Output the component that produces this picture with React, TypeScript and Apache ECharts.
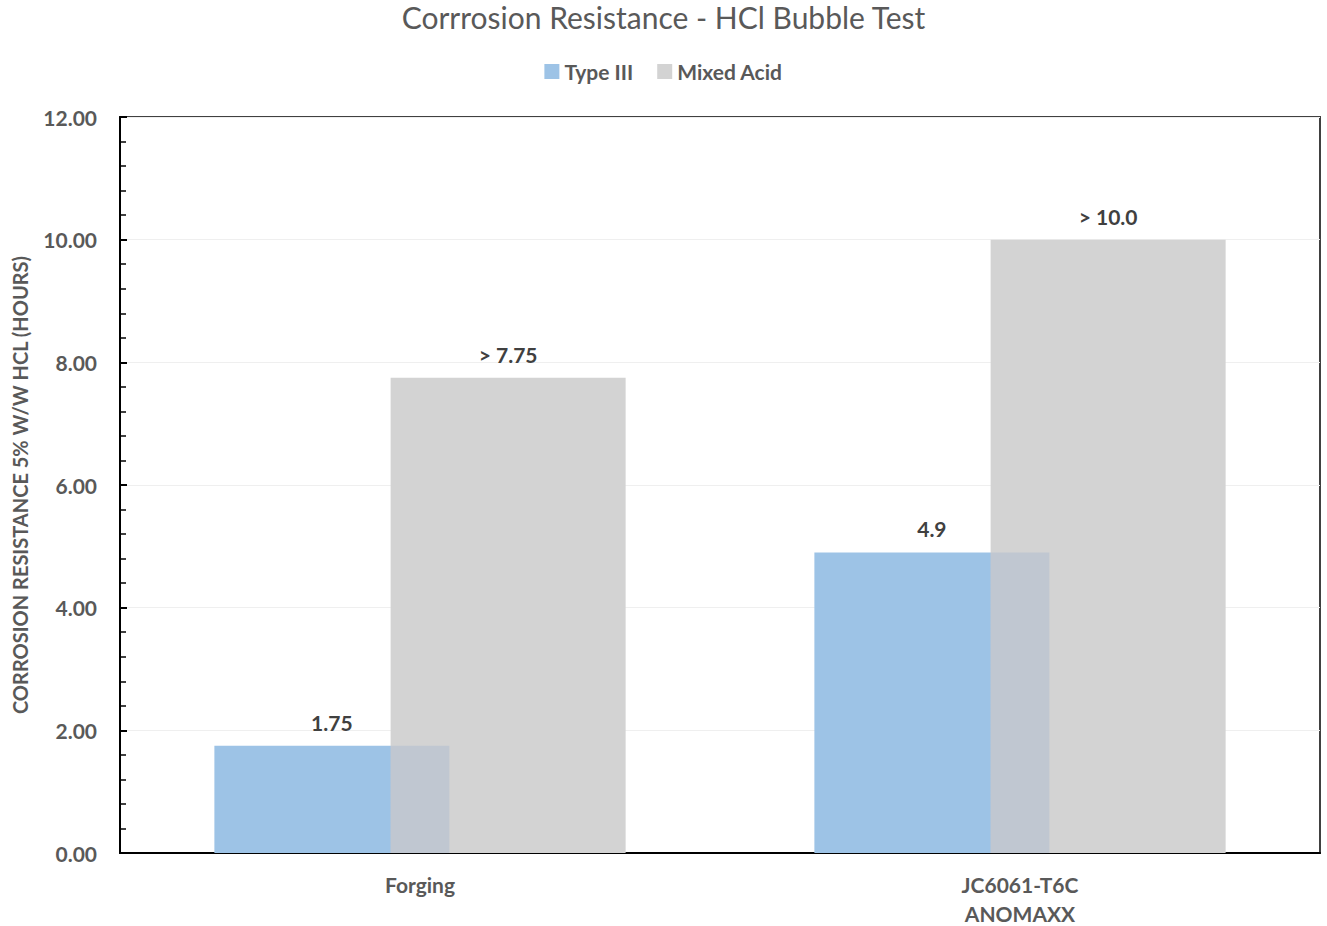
import React, { useEffect, useRef } from "react";
import * as echarts from "echarts";

const categories = ["Forging", "JC6061-T6C\nANOMAXX"];
const typeIII = [1.75, 4.9];
const mixedAcid = [7.75, 10.0];
const typeIIILabels = ["1.75", "4.9"];
const mixedAcidLabels = ["> 7.75", "> 10.0"];

const FONT = "Lato, 'Open Sans', sans-serif";
const BLUE = "#9DC3E6";
const GRAY = "#D3D3D3";
const OVERLAP = "#C0C7D1";

export default function App() {
  const ref = useRef<HTMLDivElement>(null);
  useEffect(() => {
    if (!ref.current) return;
    const chart = echarts.init(ref.current, null, { renderer: "svg" });
    chart.setOption({
      animation: false,
      backgroundColor: "#fff",
      title: {
        text: "Corrrosion Resistance - HCl Bubble Test",
        left: "center",
        top: -3,
        textStyle: { fontFamily: FONT, fontSize: 30, fontWeight: "normal", color: "#595959" },
      },
      legend: {
        top: 56,
        left: "center",
        itemWidth: 15,
        itemHeight: 15,
        itemGap: 24,
        icon: "rect",
        textStyle: { fontFamily: FONT, fontSize: 21, fontWeight: "bold", color: "#595959" },
        data: [
          { name: "Type III", itemStyle: { color: BLUE } },
          { name: "Mixed Acid", itemStyle: { color: GRAY } },
        ],
      },
      grid: {
        left: 120,
        right: 7,
        top: 117,
        bottom: 73,
        outerBoundsMode: "none",
        containLabel: false,
        show: true,
        borderColor: "#404040",
        borderWidth: 2,
      },
      xAxis: {
        type: "category",
        data: categories,
        axisLine: { lineStyle: { color: "#000", width: 2 } },
        axisTick: { show: false },
        axisLabel: {
          fontFamily: FONT,
          fontSize: 21,
          fontWeight: "bold",
          color: "#595959",
          margin: 17,
          lineHeight: 29,
        },
      },
      yAxis: {
        type: "value",
        min: 0,
        max: 12,
        interval: 2,
        name: "CORROSION RESISTANCE 5% W/W HCL (HOURS)",
        nameLocation: "middle",
        nameGap: 90,
        nameRotate: 90,
        nameTextStyle: { fontFamily: FONT, fontSize: 20, fontWeight: "bold", color: "#595959" },
        axisLine: { show: true, lineStyle: { color: "#000", width: 2 } },
        axisTick: { show: true, inside: true, length: 7, lineStyle: { color: "#000", width: 2 } },
        minorTick: { show: true, splitNumber: 5, length: 6, lineStyle: { color: "#000", width: 1.5 } },
        splitLine: { show: true, lineStyle: { color: "#EFEFEF", width: 1 } },
        axisLabel: {
          fontFamily: FONT,
          fontSize: 21,
          fontWeight: "bold",
          color: "#595959",
          margin: 23,
          formatter: (v: number) => v.toFixed(2),
        },
      },
      series: [
        {
          name: "Type III",
          type: "bar",
          data: typeIII,
          barWidth: 235,
          barGap: "-25%",
          z: 3,
          itemStyle: {
            color: {
              type: "linear",
              x: 0,
              y: 0,
              x2: 1,
              y2: 0,
              colorStops: [
                { offset: 0, color: BLUE },
                { offset: 0.749, color: BLUE },
                { offset: 0.75, color: OVERLAP },
                { offset: 1, color: OVERLAP },
              ],
            },
          },
          label: {
            show: true,
            position: "top",
            distance: 13,
            fontFamily: FONT,
            fontSize: 21,
            fontWeight: "bold",
            color: "#404040",
            formatter: (p: any) => typeIIILabels[p.dataIndex],
          },
        },
        {
          name: "Mixed Acid",
          type: "bar",
          data: mixedAcid,
          barWidth: 235,
          barGap: "-25%",
          z: 2,
          itemStyle: { color: GRAY },
          label: {
            show: true,
            position: "top",
            distance: 13,
            fontFamily: FONT,
            fontSize: 21,
            fontWeight: "bold",
            color: "#404040",
            formatter: (p: any) => mixedAcidLabels[p.dataIndex],
          },
        },
      ],
    });
    return () => chart.dispose();
  }, []);
  return (
    <div
      ref={ref}
      style={{ position: "fixed", left: 0, top: 0, width: 1327, height: 926 }}
    />
  );
}
